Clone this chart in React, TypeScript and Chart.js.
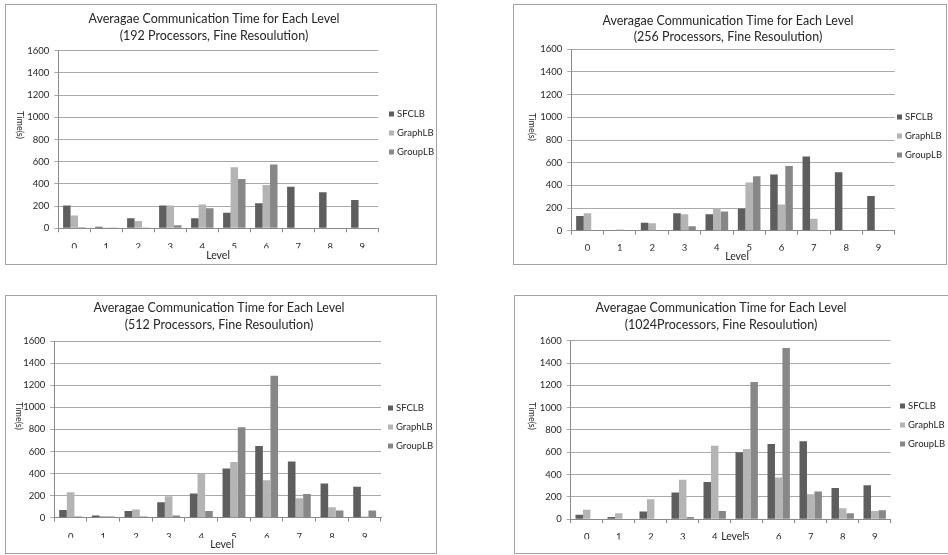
import React, { useEffect, useRef } from "react";
import { Chart, registerables } from "chart.js";

Chart.register(...registerables);

const FONT = "Lato, 'Open Sans', sans-serif";

const levels = ["0", "1", "2", "3", "4", "5", "6", "7", "8", "9"];
const seriesNames = ["SFCLB", "GraphLB", "GroupLB"];
const seriesColors = ["#5e5e5e", "#b4b4b4", "#878787"];
const yMin = 0;
const yMax = 1600;
const yStep = 200;

const sfclb192 = [205, 15, 90, 205, 90, 140, 225, 375, 325, 255];
const graphlb192 = [115, 8, 65, 205, 215, 550, 390, 0, 0, 0];
const grouplb192 = [10, 8, 8, 28, 180, 445, 575, 0, 0, 0];

const sfclb256 = [130, 5, 70, 155, 145, 195, 495, 655, 515, 305];
const graphlb256 = [155, 10, 65, 145, 195, 425, 230, 105, 0, 0];
const grouplb256 = [3, 3, 3, 40, 170, 480, 570, 0, 0, 0];

const sfclb512 = [70, 20, 60, 140, 220, 445, 650, 510, 310, 280];
const graphlb512 = [230, 15, 75, 195, 400, 505, 340, 175, 95, 10];
const grouplb512 = [10, 10, 10, 20, 60, 820, 1285, 215, 65, 65];

const sfclb1024 = [40, 20, 70, 240, 335, 600, 675, 700, 280, 305];
const graphlb1024 = [85, 55, 180, 355, 660, 630, 375, 225, 100, 75];
const grouplb1024 = [0, 0, 0, 20, 75, 1230, 1535, 250, 55, 80];

const titleLine1 = "Averagae Communication Time for Each Level";
const titles192 = [titleLine1, "(192 Processors, Fine Resoulution)"];
const titles256 = [titleLine1, "(256 Processors, Fine Resoulution)"];
const titles512 = [titleLine1, "(512 Processors, Fine Resoulution)"];
const titles1024 = [titleLine1, "(1024Processors, Fine Resoulution)"];

const yAxisTitle = "Time(s)";
const xAxisTitle = "Level";

type Layout = {
  box: { x: number; y: number; w: number; h: number };
  plot: { l: number; t: number; r: number; b: number };
  titleX: number;
  titleY: [number, number];
  legX: number;
  legY: number;
  yTitle: { x: number; y: number };
  xTitle: { x: number; y: number };
  xTickGap: number;
};

const panels: { titles: string[]; series: number[][]; layout: Layout }[] = [
  {
    titles: titles192,
    series: [sfclb192, graphlb192, grouplb192],
    layout: {
      box: { x: 5, y: 4, w: 432, h: 261 },
      plot: { l: 58.3, t: 50.7, r: 378.3, b: 228.3 },
      titleX: 214,
      titleY: [19, 36],
      legX: 389,
      legY: 114,
      yTitle: { x: 19.5, y: 125 },
      xTitle: { x: 218, y: 256 },
      xTickGap: 19,
    },
  },
  {
    titles: titles256,
    series: [sfclb256, graphlb256, grouplb256],
    layout: {
      box: { x: 513, y: 4, w: 434, h: 261 },
      plot: { l: 571.3, t: 49.3, r: 894.7, b: 230.7 },
      titleX: 728,
      titleY: [21, 37],
      legX: 897,
      legY: 117,
      yTitle: { x: 532, y: 127 },
      xTitle: { x: 737, y: 257 },
      xTickGap: 17.6,
    },
  },
  {
    titles: titles512,
    series: [sfclb512, graphlb512, grouplb512],
    layout: {
      box: { x: 5, y: 295, w: 432, h: 259 },
      plot: { l: 54.3, t: 341, r: 381, b: 517.7 },
      titleX: 219,
      titleY: [308, 325],
      legX: 388,
      legY: 408,
      yTitle: { x: 19, y: 416 },
      xTitle: { x: 222, y: 545 },
      xTickGap: 20,
    },
  },
  {
    titles: titles1024,
    series: [sfclb1024, graphlb1024, grouplb1024],
    layout: {
      box: { x: 514, y: 295, w: 440, h: 259 },
      plot: { l: 570.7, t: 340.7, r: 890.7, b: 519.3 },
      titleX: 721,
      titleY: [308, 325],
      legX: 900,
      legY: 406,
      yTitle: { x: 532, y: 416 },
      xTitle: { x: 733, y: 537 },
      xTickGap: 18.4,
    },
  },
];

const Y_W = 40;
const X_H = 20;
const TICK_LEN = 4;
const TICK_FONT = 9.5;

function Panel({ titles, series, layout }: { titles: string[]; series: number[][]; layout: Layout }) {
  const ref = useRef<HTMLCanvasElement | null>(null);
  const cw = layout.box.w - 2;
  const ch = layout.box.h - 2;
  const ox = layout.box.x + 1;
  const oy = layout.box.y + 1;

  useEffect(() => {
    if (!ref.current) return;
    const pl = layout.plot.l - ox;
    const pr = layout.plot.r - ox;
    const pt = layout.plot.t - oy;
    const pb = layout.plot.b - oy;

    const decor = {
      id: "decor",
      afterDraw(chart: any) {
        const ctx = chart.ctx as CanvasRenderingContext2D;
        ctx.save();
        ctx.fillStyle = "#262626";
        ctx.textAlign = "center";
        ctx.textBaseline = "middle";
        ctx.font = `12.5px ${FONT}`;
        ctx.fillText(titles[0], layout.titleX - ox, layout.titleY[0] - oy);
        ctx.fillText(titles[1], layout.titleX - ox, layout.titleY[1] - oy);

        ctx.font = `10.5px ${FONT}`;
        ctx.fillText(xAxisTitle, layout.xTitle.x - ox, layout.xTitle.y - oy);

        ctx.font = `9.5px ${FONT}`;
        chart.data.datasets.forEach((ds: any, i: number) => {
          const y = layout.legY + i * 19 - oy;
          ctx.fillStyle = ds.backgroundColor;
          ctx.fillRect(layout.legX - ox, y - 2.5, 5, 5);
          ctx.fillStyle = "#262626";
          ctx.textAlign = "left";
          ctx.fillText(ds.label, layout.legX - ox + 8, y);
        });

        ctx.save();
        ctx.translate(layout.yTitle.x - ox, layout.yTitle.y - oy);
        ctx.rotate(Math.PI / 2);
        ctx.textAlign = "center";
        ctx.font = `9px ${FONT}`;
        ctx.fillText(yAxisTitle, 0, 0);
        ctx.restore();
        ctx.restore();
      },
    };

    const chart = new Chart(ref.current, {
      type: "bar",
      data: {
        labels: levels,
        datasets: series.map((vals, i) => ({
          label: seriesNames[i],
          data: vals,
          backgroundColor: seriesColors[i],
          borderWidth: 0,
          categoryPercentage: 0.7,
          barPercentage: 1.0,
        })),
      },
      options: {
        responsive: false,
        animation: false,
        devicePixelRatio: 1,
        layout: {
          padding: {
            left: pl - Y_W,
            right: cw - pr,
            top: pt,
            bottom: ch - pb - X_H,
          },
        },
        plugins: {
          legend: { display: false },
          title: { display: false },
          tooltip: { enabled: false },
        },
        scales: {
          x: {
            afterFit: (s: any) => {
              s.height = X_H;
            },
            grid: {
              offset: true,
              drawOnChartArea: false,
              drawTicks: true,
              tickLength: TICK_LEN,
              color: "#8a8a8a",
            },
            border: { display: true, color: "#8a8a8a" },
            ticks: {
              color: "#262626",
              font: { family: FONT, size: TICK_FONT },
              padding: layout.xTickGap - TICK_LEN - 6,
              maxRotation: 0,
            },
          },
          y: {
            min: yMin,
            max: yMax,
            afterFit: (s: any) => {
              s.width = Y_W;
            },
            grid: {
              color: "#a9a9a9",
              tickLength: TICK_LEN,
              drawTicks: true,
            },
            border: { display: true, color: "#8a8a8a" },
            ticks: {
              stepSize: yStep,
              color: "#262626",
              font: { family: FONT, size: TICK_FONT },
              padding: 5,
              callback: (v: any) => String(v),
            },
          },
        },
      },
      plugins: [decor],
    });
    return () => chart.destroy();
  }, []);

  return (
    <div
      style={{
        position: "absolute",
        left: layout.box.x,
        top: layout.box.y,
        width: layout.box.w,
        height: layout.box.h,
        border: "1px solid #a3a3a3",
        boxSizing: "border-box",
        background: "#fff",
      }}
    >
      <canvas
        ref={ref}
        width={cw}
        height={ch}
        style={{ position: "absolute", left: 0, top: 0, width: cw, height: ch }}
      />
    </div>
  );
}

export default function App() {
  return (
    <div
      style={{
        position: "fixed",
        left: 0,
        top: 0,
        width: 948,
        height: 555,
        background: "#fff",
        overflow: "hidden",
      }}
    >
      {panels.map((p, i) => (
        <Panel key={i} titles={p.titles} series={p.series} layout={p.layout} />
      ))}
    </div>
  );
}
